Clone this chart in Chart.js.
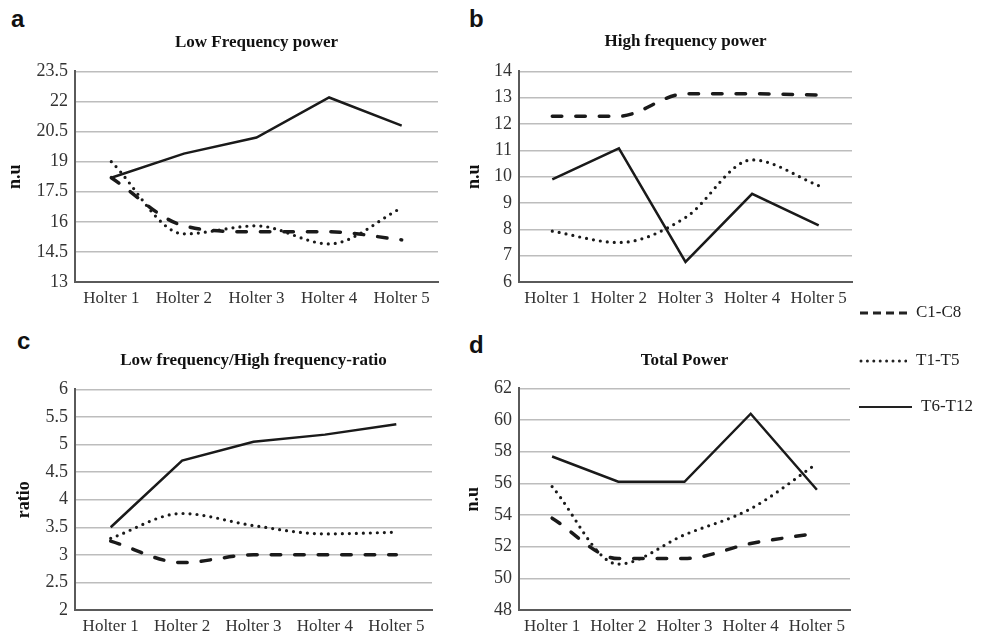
<!DOCTYPE html>
<html>
<head>
<meta charset="utf-8">
<script src="https://cdn.jsdelivr.net/npm/chart.js@4.4.1/dist/chart.umd.min.js"></script>
<style>
  body { margin: 0; background: #fff; width: 990px; height: 636px; overflow: hidden; position: relative; }
  .box { position: absolute; }
  .letter { position: absolute; font-family: "Liberation Sans", Arial, sans-serif; font-weight: bold; font-size: 24px; line-height: 1; color: #111; }
  .legend { position: absolute; left: 859px; font-family: "Liberation Serif", serif; font-size: 17px; color: #222; line-height: 20px; white-space: nowrap; }
  .legend svg { vertical-align: middle; margin-right: 9px; }
</style>
</head>
<body>
<div class="letter" style="left:11px;top:7px">a</div>
<div class="letter" style="left:469px;top:7px">b</div>
<div class="letter" style="left:17px;top:329px">c</div>
<div class="letter" style="left:469px;top:333px">d</div>

<div class="box" style="left:0;top:0;width:450px;height:310px"><canvas id="chartA"></canvas></div>
<div class="box" style="left:450px;top:0;width:410px;height:310px"><canvas id="chartB"></canvas></div>
<div class="box" style="left:0;top:320px;width:450px;height:316px"><canvas id="chartC"></canvas></div>
<div class="box" style="left:450px;top:320px;width:410px;height:316px"><canvas id="chartD"></canvas></div>

<div class="legend" style="top:302px"><svg width="48" height="6"><line x1="1" y1="3" x2="48" y2="3" stroke="#222" stroke-width="3" stroke-dasharray="8 5"/></svg>C1-C8</div>
<div class="legend" style="top:350px"><svg width="48" height="6"><line x1="2" y1="3" x2="48" y2="3" stroke="#222" stroke-width="3" stroke-linecap="round" stroke-dasharray="0 6.4"/></svg>T1-T5</div>
<div class="legend" style="top:396px"><svg width="53" height="6"><line x1="0" y1="3" x2="53" y2="3" stroke="#222" stroke-width="2"/></svg>T6-T12</div>

<script>
// categories
const holters = ['Holter 1', 'Holter 2', 'Holter 3', 'Holter 4', 'Holter 5'];
const seriesNames = ['C1-C8', 'T1-T5', 'T6-T12'];

// a - Low Frequency power (n.u)
const lfC1C8 = [18.2, 15.8, 15.5, 15.5, 15.1];
const lfT1T5 = [19.0, 15.4, 15.8, 14.9, 16.7];
const lfT6T12 = [18.2, 19.4, 20.2, 22.2, 20.8];

// b - High frequency power (n.u)
const hfC1C8 = [12.3, 12.3, 13.15, 13.15, 13.1];
const hfT1T5 = [7.93, 7.5, 8.45, 10.64, 9.66];
const hfT6T12 = [9.9, 11.08, 6.76, 9.35, 8.15];

// c - LF/HF ratio
const ratioC1C8 = [3.25, 2.86, 3.0, 3.0, 3.0];
const ratioT1T5 = [3.3, 3.75, 3.53, 3.38, 3.41];
const ratioT6T12 = [3.5, 4.71, 5.05, 5.18, 5.37];

// d - Total Power (n.u)
const tpC1C8 = [53.8, 51.25, 51.25, 52.2, 52.85];
const tpT1T5 = [55.8, 50.9, 52.75, 54.4, 57.25];
const tpT6T12 = [57.7, 56.1, 56.1, 60.4, 55.6];

Chart.defaults.font.family = '"Liberation Serif", "Times New Roman", serif';
Chart.defaults.color = '#333';

function lineSets(c1, t1, t6) {
    return [
        {
            label: seriesNames[0], data: c1, borderColor: '#1a1a1a', borderWidth: 3.5,
            borderDash: [9.5, 14], borderCapStyle: 'round', cubicInterpolationMode: 'monotone', pointRadius: 0
        },
        {
            label: seriesNames[1], data: t1, borderColor: '#1a1a1a', borderWidth: 3.2,
            borderDash: [0, 7], borderCapStyle: 'round', cubicInterpolationMode: 'monotone', pointRadius: 0
        },
        {
            label: seriesNames[2], data: t6, borderColor: '#1a1a1a', borderWidth: 2.5,
            tension: 0, pointRadius: 0
        }
    ];
}

function makePanel(id, title, yTitle, yMin, yMax, step, sets, opts) {
    new Chart(document.getElementById(id), {
        type: 'line',
        data: { labels: holters, datasets: sets },
        options: {
            responsive: true,
            maintainAspectRatio: false,
            animation: false,
            layout: { padding: { left: 0, right: opts.padRight, top: 0, bottom: 0 } },
            plugins: {
                legend: { display: false },
                tooltip: { enabled: false },
                title: {
                    display: true,
                    text: title,
                    fullSize: false,
                    color: '#111',
                    font: { size: 17, weight: 'bold' },
                    padding: { top: opts.titleTop, bottom: opts.titleBottom }
                }
            },
            scales: {
                x: {
                    offset: true,
                    grid: { display: false, drawTicks: false },
                    border: { color: '#5a5a5a', width: 2 },
                    ticks: { padding: 6, font: { size: 17 }, color: '#333' },
                    afterFit: function(scale) { scale.height = opts.xHeight; }
                },
                y: {
                    min: yMin,
                    max: yMax,
                    grid: { color: '#bdbdbd', lineWidth: 1.5, drawTicks: false },
                    border: { color: '#5a5a5a', width: 2 },
                    ticks: {
                        stepSize: step, padding: 7, font: { size: 18 }, color: '#333',
                        callback: function(v) { return String(+v.toFixed(2)); }
                    },
                    title: {
                        display: true, text: yTitle, color: '#111',
                        font: { size: 18, weight: 'bold' },
                        padding: { top: opts.yTitlePad, bottom: 0 }
                    },
                    afterFit: function(scale) { scale.width = opts.yWidth; }
                }
            }
        }
    });
}

makePanel('chartA', 'Low Frequency power', 'n.u', 13, 23.5, 1.5,
    lineSets(lfC1C8, lfT1T5, lfT6T12),
    { padRight: 12, titleTop: 32, titleBottom: 19, xHeight: 28, yWidth: 75, yTitlePad: 5 });

makePanel('chartB', 'High frequency power', 'n.u', 6, 14, 1,
    lineSets(hfC1C8, hfT1T5, hfT6T12),
    { padRight: 8, titleTop: 31, titleBottom: 20, xHeight: 28, yWidth: 69, yTitlePad: 14 });

makePanel('chartC', 'Low frequency/High frequency-ratio', 'ratio', 2, 6, 0.5,
    lineSets(ratioC1C8, ratioT1T5, ratioT6T12),
    { padRight: 18, titleTop: 30, titleBottom: 19, xHeight: 26, yWidth: 75, yTitlePad: 14 });

makePanel('chartD', 'Total Power', 'n.u', 48, 62, 2,
    lineSets(tpC1C8, tpT1T5, tpT6T12),
    { padRight: 10, titleTop: 30, titleBottom: 18, xHeight: 26, yWidth: 69, yTitlePad: 13 });
</script>
</body>
</html>
